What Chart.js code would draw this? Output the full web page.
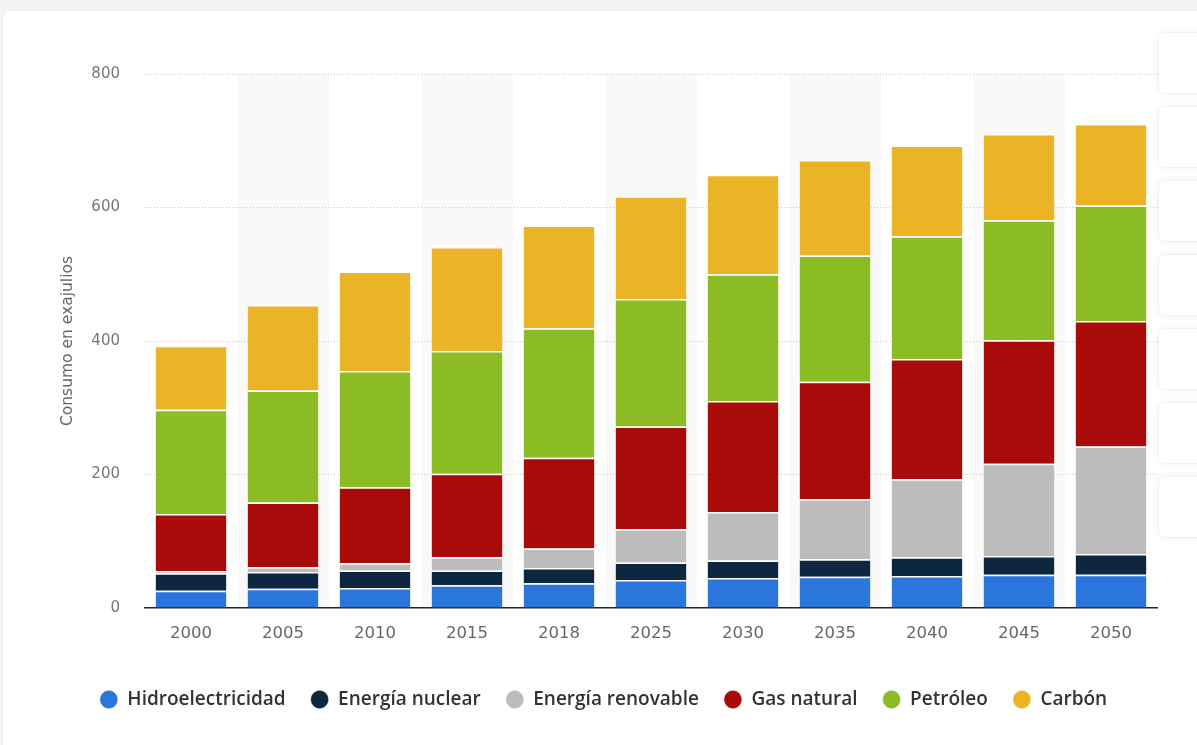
<!DOCTYPE html>
<html>
<head>
<meta charset="utf-8">
<script src="https://cdn.jsdelivr.net/npm/chart.js@4.4.1/dist/chart.umd.min.js"></script>
<style>
  html, body { margin:0; padding:0; }
  body { width:1197px; height:745px; background:#f3f4f6; position:relative; overflow:hidden; font-family:"Open Sans", sans-serif; }
  #card { position:absolute; left:3px; top:11px; width:1220px; height:760px; background:#fff; border-radius:8px; box-shadow:0 0 3px rgba(0,0,0,0.06); }
  .btn { position:absolute; left:1158px; width:60px; height:60px; background:#fff; border-radius:6px; box-shadow:0 0 8px rgba(0,0,0,0.06); border:1px solid #eff1f4; }
  #wrap { position:absolute; left:0; top:0; width:1197px; height:745px; }
</style>
</head>
<body>
<div id="card"></div>
<div class="btn" style="top:32px"></div>
<div class="btn" style="top:106px"></div>
<div class="btn" style="top:180px"></div>
<div class="btn" style="top:254px"></div>
<div class="btn" style="top:328px"></div>
<div class="btn" style="top:402px"></div>
<div class="btn" style="top:476px"></div>
<div id="wrap"><canvas id="c"></canvas></div>
<script>
const categories = ['2000','2005','2010','2015','2018','2025','2030','2035','2040','2045','2050'];
const hidroelectricidad = [26, 29, 30, 34, 37, 42, 45, 47, 48, 50, 50];
const energiaNuclear    = [26, 25, 26, 22, 23, 26, 26, 26, 28, 28, 31];
const energiaRenovable  = [3, 7, 11, 20, 29, 50, 73, 90, 117, 138, 161];
const gasNatural        = [86, 97, 114, 125, 136, 154, 166, 176, 180, 185, 188];
const petroleo          = [156, 168, 174, 184, 194, 191, 190, 189, 184, 180, 173];
const carbon            = [96, 128, 149, 156, 154, 154, 149, 143, 136, 129, 122];
const yTicks = [0, 200, 400, 600, 800];

const seriesNames  = ['Hidroelectricidad','Energía nuclear','Energía renovable','Gas natural','Petróleo','Carbón'];
const seriesValues = [hidroelectricidad, energiaNuclear, energiaRenovable, gasNatural, petroleo, carbon];
const seriesColors = ['#2a76dd','#0e2740','#bcbcbc','#a90b0b','#8bbc23','#ebb426'];

const bands = {
  id: 'bands',
  beforeDraw(chart) {
    const {ctx, chartArea} = chart;
    const x = chart.scales.x;
    const w = x.width / categories.length;
    ctx.save();
    ctx.fillStyle = '#f9f9f9';
    categories.forEach((c, i) => {
      if (i % 2 === 1) {
        const px = x.getPixelForValue(i);
        ctx.fillRect(px - w/2, chartArea.top, w, chartArea.bottom - chartArea.top);
      }
    });
    ctx.restore();
  }
};

new Chart(document.getElementById('c'), {
  type: 'bar',
  data: {
    labels: categories,
    datasets: seriesNames.map((n, i) => ({
      label: n,
      data: seriesValues[i],
      backgroundColor: seriesColors[i],
      borderColor: '#ffffff',
      borderWidth: {top: 1.5, left: 0, right: 0, bottom: 0},
      borderSkipped: false,
      barPercentage: 0.77,
      categoryPercentage: 1
    }))
  },
  options: {
    responsive: true,
    maintainAspectRatio: false,
    animation: false,
    devicePixelRatio: 1,
    layout: { padding: { left: 50, top: 74, right: 40, bottom: 26 } },
    plugins: {
      tooltip: { enabled: false },
      legend: {
        position: 'bottom',
        labels: {
          usePointStyle: true,
          pointStyle: 'circle',
          boxHeight: 13,
          pointStyleWidth: 18,
          padding: 25,
          color: '#333',
          font: { family: '"Open Sans", sans-serif', size: 19, weight: '600' }
        }
      }
    },
    scales: {
      x: {
        stacked: true,
        grid: { display: false, drawTicks: false },
        border: { display: true, color: '#1d2633', width: 1.5 },
        ticks: { color: '#666', padding: 16, font: { family: '"DejaVu Sans", sans-serif', size: 16.5 } },
        afterFit(s) { s.height = 57; }
      },
      y: {
        stacked: true,
        min: 0, max: 800,
        afterBuildTicks(s) { s.ticks = yTicks.map(v => ({ value: v })); },
        grid: { color: (c) => c.tick && c.tick.value === 0 ? 'rgba(0,0,0,0)' : '#c8c8c8', lineWidth: 1, drawTicks: false },
        border: { display: false, dash: [1, 2] },
        ticks: { color: '#777', padding: 25, font: { family: '"DejaVu Sans", sans-serif', size: 15 } },
        title: { display: true, text: 'Consumo en exajulios', color: '#666', padding: { top: 9, bottom: 0 }, font: { family: '"DejaVu Sans", sans-serif', size: 15.5 } },
        afterFit(s) { s.width = 95; }
      }
    }
  },
  plugins: [bands]
});
</script>
</body>
</html>
